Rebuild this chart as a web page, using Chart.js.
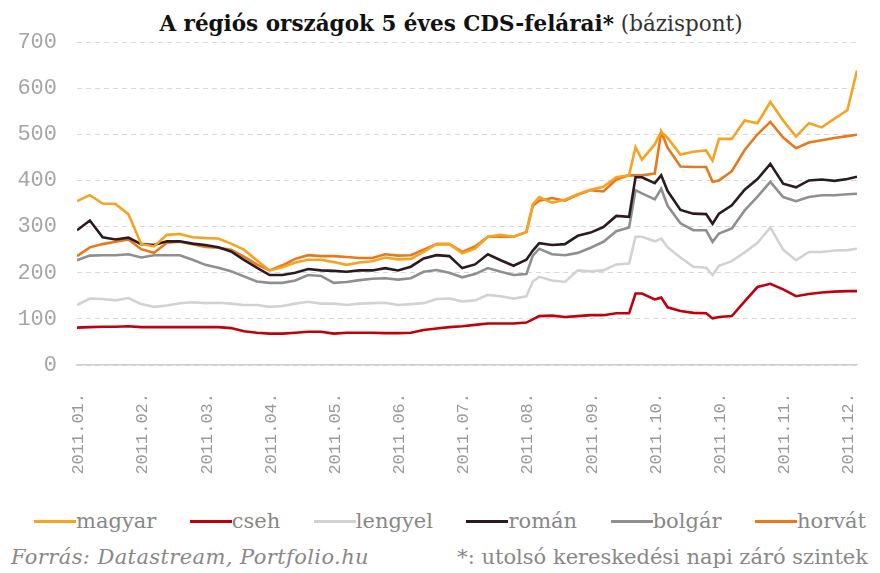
<!DOCTYPE html>
<html lang="hu">
<head>
<meta charset="utf-8">
<title>CDS-felárak</title>
<script src="https://cdn.jsdelivr.net/npm/chart.js@4.4.1/dist/chart.umd.min.js"></script>
<style>
  html, body { margin: 0; padding: 0; background: #fff; }
  body { width: 880px; height: 573px; position: relative; overflow: hidden; font-family: "DejaVu Serif", serif; }
  #title { position: absolute; top: 10px; left: 11px; width: 880px; text-align: center; font-size: 21.5px; line-height: 28px; color: #111; }
  #title b { font-weight: bold; }
  #title span { color: #333; }
  #wrap { position: absolute; top: 30px; left: 0; width: 880px; height: 470px; }
  #legend { position: absolute; top: 507px; left: 34px; width: 832px; display: flex; justify-content: space-between; font-size: 21px; line-height: 28px; color: #888; }
  #legend .item { display: flex; align-items: center; white-space: nowrap; }
  #legend .line { display: inline-block; width: 42px; height: 3px; }
  #src { position: absolute; top: 544px; left: 11px; font-style: italic; font-size: 21px; letter-spacing: 0.4px; line-height: 26px; color: #888; }
  #note { position: absolute; top: 544px; right: 12px; font-size: 21px; line-height: 26px; color: #888; }
</style>
</head>
<body>
<div id="title"><b>A régiós országok 5 éves CDS-felárai*</b> <span>(bázispont)</span></div>
<div id="wrap"><canvas id="cds" width="880" height="470"></canvas></div>
<div id="legend"></div>
<div id="src">Forrás: Datastream, Portfolio.hu</div>
<div id="note">*: utolsó kereskedési napi záró szintek</div>
<script>
// kereskedési nap sorszáma (2011. jan. 3. = 0), kb. 4 naponként + a nagy ugrásoknál
var days = [0, 4, 8, 12, 16, 20, 24, 28, 32, 36,
  40, 44, 48, 52, 56, 60, 64, 68, 72, 76,
  80, 84, 88, 92, 96, 100, 104, 108, 112, 116,
  120, 124, 128, 132, 136, 140, 142, 144, 148, 152, 156,
  160, 164, 168, 172, 174, 176, 180, 182, 184, 188, 192, 196, 198,
  200, 204, 208, 212, 216, 220, 224, 228, 232, 236,
  240, 243];

var tickDays = [0.5, 20.5, 40.5, 60.5, 80.5, 100.5, 120.5, 140.5, 160.5, 180.5, 200.5, 220.5, 240.5];
var tickLabels = ["2011.01.", "2011.02.", "2011.03.", "2011.04.", "2011.05.", "2011.06.", "2011.07.",
  "2011.08.", "2011.09.", "2011.10.", "2011.10.", "2011.11.", "2011.12."];

var magyar = [355, 368, 350, 349, 327, 262, 257, 282, 284, 277,
  275, 274, 263, 250, 227, 205, 212, 222, 228, 228,
  223, 217, 222, 225, 233, 229, 230, 245, 262, 262,
  242, 252, 278, 282, 278, 288, 348, 364, 352, 358, 370,
  380, 386, 407, 411, 472, 445, 478, 505, 492, 456, 462, 465, 443,
  490, 490, 530, 524, 570, 530, 495, 524, 515, 534,
  552, 638];
var cseh = [81, 82, 83, 83, 84, 82, 82, 82, 82, 82,
  82, 82, 80, 73, 70, 68, 68, 70, 72, 72,
  68, 70, 70, 70, 69, 69, 70, 76, 79, 82,
  84, 87, 90, 90, 90, 92, 99, 106, 107, 104, 106,
  108, 108, 112, 112, 155, 155, 142, 146, 125, 117, 113, 112, 101,
  104, 106, 138, 169, 176, 164, 149, 154, 157, 159,
  160, 160];
var lengyel = [130, 144, 143, 140, 145, 132, 126, 129, 134, 136,
  134, 135, 133, 130, 130, 126, 128, 133, 137, 133,
  133, 130, 133, 134, 135, 130, 132, 134, 143, 144,
  138, 140, 152, 149, 144, 149, 181, 191, 183, 180, 205,
  203, 205, 218, 220, 278, 278, 268, 274, 255, 233, 213, 211, 195,
  215, 225, 244, 265, 298, 250, 227, 245, 245, 248,
  249, 252];
var roman = [292, 313, 277, 272, 276, 262, 260, 268, 268, 263,
  260, 255, 246, 228, 211, 195, 195, 200, 208, 205,
  204, 202, 205, 205, 210, 205, 213, 231, 238, 236,
  210, 218, 240, 227, 215, 228, 248, 264, 260, 262, 280,
  287, 299, 323, 321, 407, 407, 394, 411, 377, 336, 328, 327, 306,
  328, 346, 380, 403, 436, 393, 385, 400, 402, 399,
  403, 408];
var bolgar = [227, 237, 238, 238, 240, 233, 238, 238, 238, 228,
  217, 211, 203, 192, 181, 178, 178, 183, 195, 193,
  178, 180, 184, 187, 188, 185, 188, 202, 206, 200,
  190, 197, 210, 202, 195, 197, 237, 252, 240, 238, 243,
  254, 267, 290, 298, 379, 372, 359, 382, 345, 307, 292, 292, 267,
  285, 296, 335, 365, 397, 364, 355, 364, 368, 368,
  370, 371];
var horvat = [236, 255, 262, 267, 272, 251, 243, 265, 267, 262,
  256, 254, 250, 235, 218, 205, 216, 230, 238, 236,
  236, 234, 232, 232, 240, 237, 238, 250, 262, 262,
  245, 257, 278, 278, 278, 288, 345, 356, 362, 356, 369,
  379, 376, 402, 411, 411, 411, 415, 505, 471, 430, 429, 429, 397,
  400, 420, 466, 500, 527, 493, 470, 482, 487, 492,
  496, 499];

var names = ["magyar", "cseh", "lengyel", "román", "bolgár", "horvát"];
var colors = ["#f7a320", "#c0000b", "#d2d2d2", "#2b1b21", "#8f8f8f", "#e9781c"];
var values = [magyar, cseh, lengyel, roman, bolgar, horvat];

var datasets = names.map(function (name, k) {
  return {
    label: name,
    data: days.map(function (d, i) { return { x: d, y: values[k][i] }; }),
    borderColor: colors[k],
    backgroundColor: colors[k],
    borderWidth: 2.6,
    pointRadius: 0,
    tension: 0,
  };
});

new Chart(document.getElementById("cds"), {
  type: "line",
  data: { datasets: datasets },
  options: {
    responsive: false,
    animation: false,
    layout: { padding: { top: 12, right: 23, left: 0, bottom: 0 } },
    plugins: { legend: { display: false }, tooltip: { enabled: false } },
    scales: {
      x: {
        type: "linear",
        min: 0,
        max: 243,
        afterBuildTicks: function (s) {
          s.ticks = tickDays.map(function (v) { return { value: v }; });
        },
        afterFit: function (s) {
          s.height = 135;
          s.paddingLeft = 0;
          s.paddingRight = 0;
        },
        grid: { display: false, drawTicks: false },
        border: { display: true, color: "#cfcfcf", width: 1.5 },
        ticks: {
          autoSkip: false,
          minRotation: 90,
          maxRotation: 90,
          padding: 28,
          color: "#9a9a9a",
          font: { family: "Liberation Mono", size: 17 },
          callback: function (v, i) { return tickLabels[i]; },
        },
      },
      y: {
        min: 0,
        max: 700,
        afterFit: function (s) {
          s.width = 77;
          s.paddingTop = 0;
          s.paddingBottom = 0;
        },
        grid: { color: "#d8d8d8", lineWidth: 1, drawTicks: false },
        border: { display: false, dash: [5, 4] },
        ticks: {
          stepSize: 100,
          padding: 20,
          color: "#a5a5a5",
          font: { family: "Liberation Mono", size: 22 },
        },
      },
    },
  },
});

// jelmagyarázat
var legend = document.getElementById("legend");
names.forEach(function (name, k) {
  var item = document.createElement("div");
  item.className = "item";
  var line = document.createElement("span");
  line.className = "line";
  line.style.background = colors[k];
  var txt = document.createElement("span");
  txt.textContent = name;
  item.appendChild(line);
  item.appendChild(txt);
  legend.appendChild(item);
});
</script>
</body>
</html>
